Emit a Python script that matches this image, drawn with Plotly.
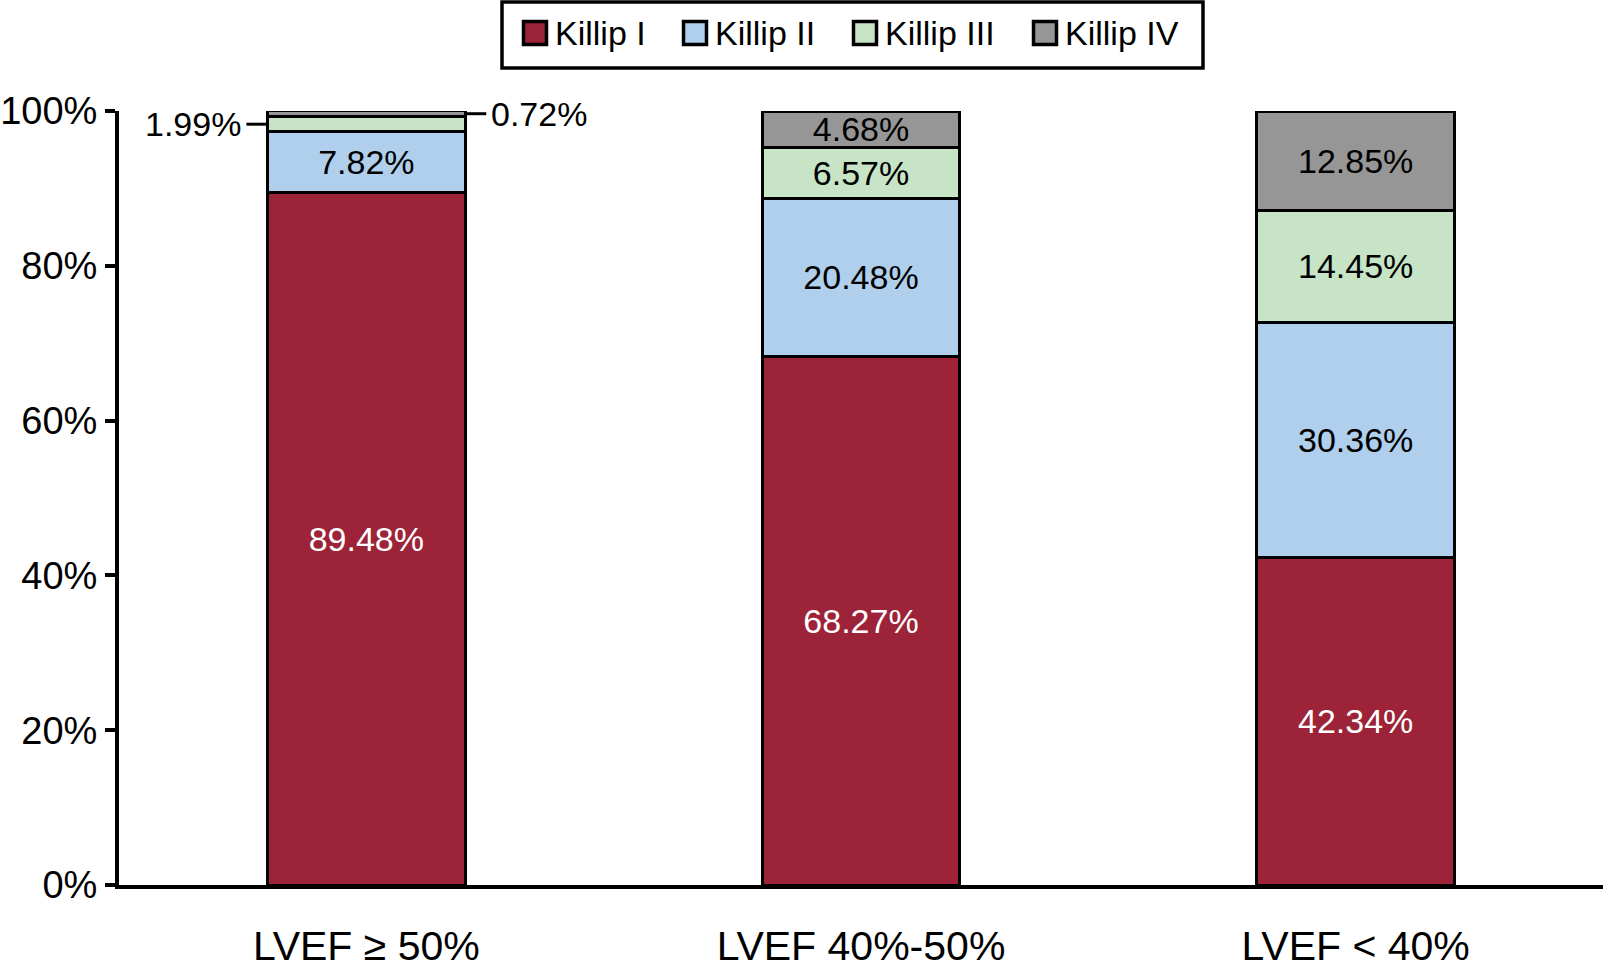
import plotly.graph_objects as go

categories = ["LVEF ≥ 50%", "LVEF 40%-50%", "LVEF < 40%"]
series_names = ["Killip I", "Killip II", "Killip III", "Killip IV"]
killip1 = [89.48, 68.27, 42.34]
killip2 = [7.82, 20.48, 30.36]
killip3 = [1.99, 6.57, 14.45]
killip4 = [0.72, 4.68, 12.85]
y_ticks = [0, 20, 40, 60, 80, 100]

colors = ["#9c2338", "#afcfec", "#c7e5c6", "#969696"]
text_colors = ["white", "black", "black", "black"]
series = [killip1, killip2, killip3, killip4]

# small segments labelled outside with leader lines (category index, series index, side)
outside = [(0, 2, "left"), (0, 3, "right")]
outside_set = {(c, s) for c, s, _ in outside}

FONT = "Liberation Sans, Arial, sans-serif"
BAR_W = 0.4
W, H = 1603, 970
ML, MR, MT, MB = 119, 0, 111, 85
PW, PH = W - ML - MR, H - MT - MB


def px_x(px):
    return (px - ML) / PW


def px_y(py):
    return (H - MB - py) / PH


fig = go.Figure()
for si, (name, vals) in enumerate(zip(series_names, series)):
    texts = ["" if (ci, si) in outside_set else f"{v:.2f}%" for ci, v in enumerate(vals)]
    fig.add_trace(go.Bar(
        name=name, x=categories, y=vals, width=BAR_W,
        marker=dict(color=colors[si], line=dict(color="black", width=3)),
        text=texts, textposition="inside", insidetextanchor="middle",
        textangle=0, constraintext="none",
        textfont=dict(family=FONT, size=34, color=text_colors[si]),
        hoverinfo="name+y", showlegend=False,
    ))

for ci, si, side in outside:
    base = sum(series[k][ci] for k in range(si))
    mid = base + series[si][ci] / 2
    edge = ci - BAR_W / 2 if side == "left" else ci + BAR_W / 2
    sign = -1 if side == "left" else 1
    fig.add_shape(type="line", xref="x", yref="y", xsizemode="pixel",
                  xanchor=edge, x0=0, x1=sign * 21, y0=mid, y1=mid,
                  line=dict(color="black", width=3))
    fig.add_annotation(x=edge, y=mid, xref="x", yref="y", showarrow=False,
                       text=f"{series[si][ci]:.2f}%", xshift=sign * 24,
                       xanchor="right" if side == "left" else "left",
                       font=dict(family=FONT, size=34, color="black"))

# legend box drawn at the top, as in the reference
fig.add_shape(type="rect", xref="paper", yref="paper",
              x0=px_x(502), x1=px_x(1203), y0=px_y(68), y1=px_y(2),
              line=dict(color="black", width=3.5), fillcolor="white", layer="above")
legend_glyph_px = [522, 682, 852, 1032]
for name, col, gx in zip(series_names, colors, legend_glyph_px):
    fig.add_shape(type="rect", xref="paper", yref="paper",
                  x0=px_x(gx + 1.5), x1=px_x(gx + 24.5), y0=px_y(44.5), y1=px_y(21.5),
                  line=dict(color="black", width=3.5), fillcolor=col, layer="above")
    fig.add_annotation(xref="paper", yref="paper", x=px_x(gx + 31), y=px_y(33),
                       text=name, showarrow=False, xanchor="left", yanchor="middle",
                       font=dict(family=FONT, size=34, color="black"))

fig.update_layout(
    barmode="stack",
    width=W, height=H,
    margin=dict(l=ML, r=MR, t=MT, b=MB, autoexpand=False),
    plot_bgcolor="white", paper_bgcolor="white",
    font=dict(family=FONT, color="black"),
    uniformtext=dict(mode="show", minsize=34),
    showlegend=False,
)
fig.update_xaxes(type="category", range=[-0.5, 2.5], showline=True, linecolor="black",
                 linewidth=4, ticks="", showgrid=False, zeroline=False, automargin=False,
                 tickfont=dict(family=FONT, size=41, color="black"), ticklabelstandoff=22)
fig.update_yaxes(range=[0, 100], tickvals=y_ticks, ticktext=[f"{t}%" for t in y_ticks],
                 showline=True, linecolor="black", linewidth=4, ticks="outside",
                 ticklen=10, tickwidth=3.5, tickcolor="black", showgrid=False, zeroline=False,
                 automargin=False,
                 tickfont=dict(family=FONT, size=38, color="black"))

fig.write_html("out.html", config={"displayModeBar": False},
               post_script="document.body.style.margin='0';document.body.style.overflow='hidden';")
